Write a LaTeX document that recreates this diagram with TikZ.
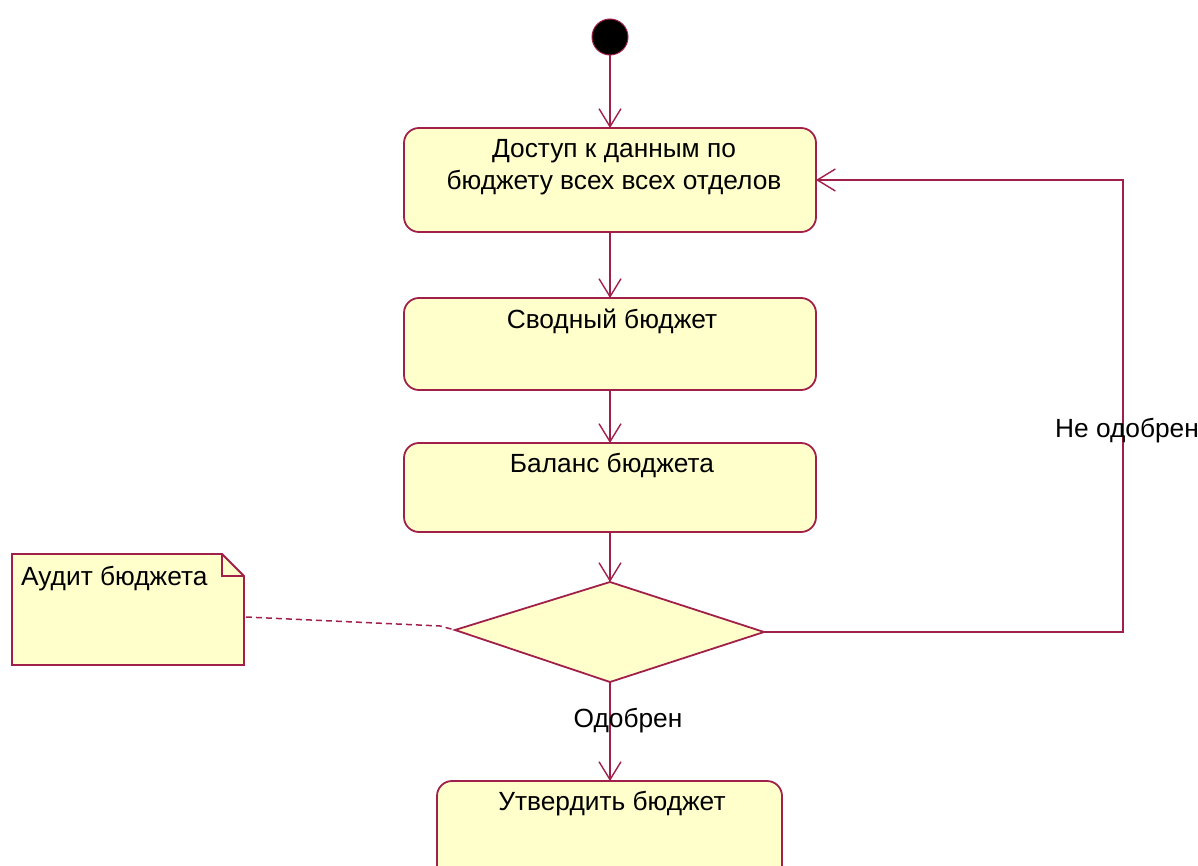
\documentclass[tikz,border=0pt]{standalone}
\usepackage{fontspec}
\setmainfont{Liberation Sans}
\usetikzlibrary{arrows.meta,shapes.geometric}
\definecolor{umlline}{HTML}{A0204A}
\definecolor{umlfill}{HTML}{FFFFCC}
\tikzset{
  actbox/.style={draw=umlline, fill=umlfill, line width=1.8pt, rounded corners=15pt},
  flow/.style={draw=umlline, line width=1.8pt, -{Straight Barb[length=18pt,width=22pt,line width=1.4pt]}},
  lbl/.style={font=\fontsize{26.3}{32}\selectfont, inner sep=0pt, text=black}
}
\begin{document}
\begin{tikzpicture}[x=1pt,y=-1pt]
\useasboundingbox (0,0) rectangle (1198,866);
% start
\node[circle, fill=black, draw=umlline, line width=1pt, minimum size=36pt, inner sep=0pt] (start) at (610,37) {};
% boxes
\draw[actbox] (404,128) rectangle (816,232);
\coordinate (b1top) at (610,128);
\coordinate (b1bot) at (610,232);
\coordinate (b1right) at (816,180);
\node[lbl, align=center] (t1) at (614,167) {Доступ к данным по\\бюджету всех всех отделов};
\draw[actbox] (404,298) rectangle (816,390);
\coordinate (b2top) at (610,298);
\coordinate (b2bot) at (610,390);
\node[lbl] (t2) at (612,321) {Сводный бюджет};
\draw[actbox] (404,443) rectangle (816,532);
\coordinate (b3top) at (610,443);
\coordinate (b3bot) at (610,532);
\node[lbl] (t3) at (612,465) {Баланс бюджета};
\draw[actbox] (437,781) rectangle (782,900);
\coordinate (b4top) at (610,781);
\node[lbl] (t4) at (612,804) {Утвердить бюджет};
% diamond
\draw[draw=umlline, fill=umlfill, line width=1.8pt] (455,630) -- (610,582) -- (764,632) -- (610,682) -- cycle;
\coordinate (dleft) at (455,630);
\coordinate (dright) at (764,632);
\coordinate (dbot) at (610,682);
\coordinate (dtop) at (610,582);
% note
\draw[draw=umlline, fill=umlfill, line width=1.8pt] (12,554) -- (222,554) -- (244,576) -- (244,665) -- (12,665) -- cycle;
\draw[draw=umlline, line width=1.4pt] (222,554) -- (222,576) -- (244,576);
\coordinate (nright) at (246,617);
\node[lbl, anchor=west] (tn) at (21,579) {Аудит бюджета};
% flows
\draw[flow] (start) -- (b1top);
\draw[flow] (b1bot) -- (b2top);
\draw[flow] (b2bot) -- (b3top);
\draw[flow] (b3bot) -- (dtop);
\draw[flow] (dbot) -- (b4top);
\draw[flow] (dright) -- (945,632) -- (1123,632) -- (1123,180) -- (b1right);
\draw[draw=umlline, line width=1.5pt, dash pattern=on 6pt off 4pt] (nright) -- (440,626) -- (dleft);
% labels
\node[lbl] (ok) at (628,721) {Одобрен};
\node[lbl] (nok) at (1127,431) {Не одобрен};
\end{tikzpicture}
\end{document}
